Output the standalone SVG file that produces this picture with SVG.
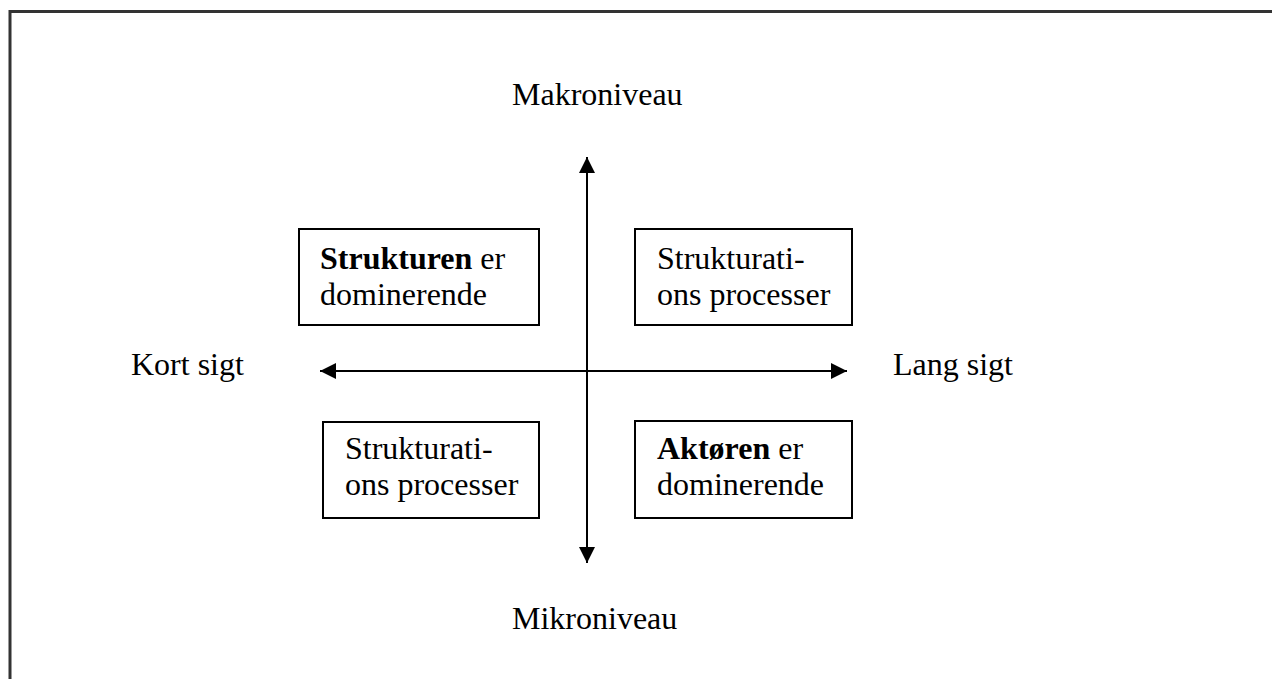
<svg xmlns="http://www.w3.org/2000/svg" width="1272" height="679" viewBox="0 0 1272 679">
<style>
text{font-family:"Liberation Serif","Times New Roman",serif;font-size:32px;fill:#000}
.b{font-weight:bold}
.box{fill:#fff;stroke:#000;stroke-width:2}
.ax{stroke:#000;stroke-width:2;fill:none}
</style>
<defs>
<marker id="ah" viewBox="0 0 16 16" refX="16" refY="8" markerWidth="16" markerHeight="16" markerUnits="userSpaceOnUse" orient="auto-start-reverse">
<path d="M0,0 L16,8 L0,16 Z" fill="#000"/>
</marker>
</defs>
<rect width="1272" height="679" fill="#fff"/>
<path d="M10,679 V11.5 H1272" fill="none" stroke="#333" stroke-width="3"/>
<g id="connectors">
<line class="ax" x1="587" y1="563" x2="587" y2="157" marker-start="url(#ah)" marker-end="url(#ah)"/>
<line class="ax" x1="320" y1="371" x2="847" y2="371" marker-start="url(#ah)" marker-end="url(#ah)"/>
</g>
<g id="label-makro"><text x="512" y="105">Makroniveau</text></g>
<g id="label-mikro"><text x="512" y="629">Mikroniveau</text></g>
<g id="label-kort"><text x="131" y="375">Kort sigt</text></g>
<g id="label-lang"><text x="893" y="375">Lang sigt</text></g>
<g id="node-tl">
<rect class="box" x="299" y="229" width="240" height="96"/>
<text x="320" y="269"><tspan class="b">Strukturen</tspan> er</text>
<text x="320" y="305">dominerende</text>
</g>
<g id="node-tr">
<rect class="box" x="635" y="229" width="217" height="96"/>
<text x="657" y="269">Strukturati-</text>
<text x="657" y="305">ons processer</text>
</g>
<g id="node-bl">
<rect class="box" x="323" y="422" width="216" height="96"/>
<text x="345" y="459">Strukturati-</text>
<text x="345" y="495">ons processer</text>
</g>
<g id="node-br">
<rect class="box" x="635" y="421" width="217" height="97"/>
<text x="657" y="459"><tspan class="b">Aktøren</tspan> er</text>
<text x="657" y="495">dominerende</text>
</g>
</svg>
